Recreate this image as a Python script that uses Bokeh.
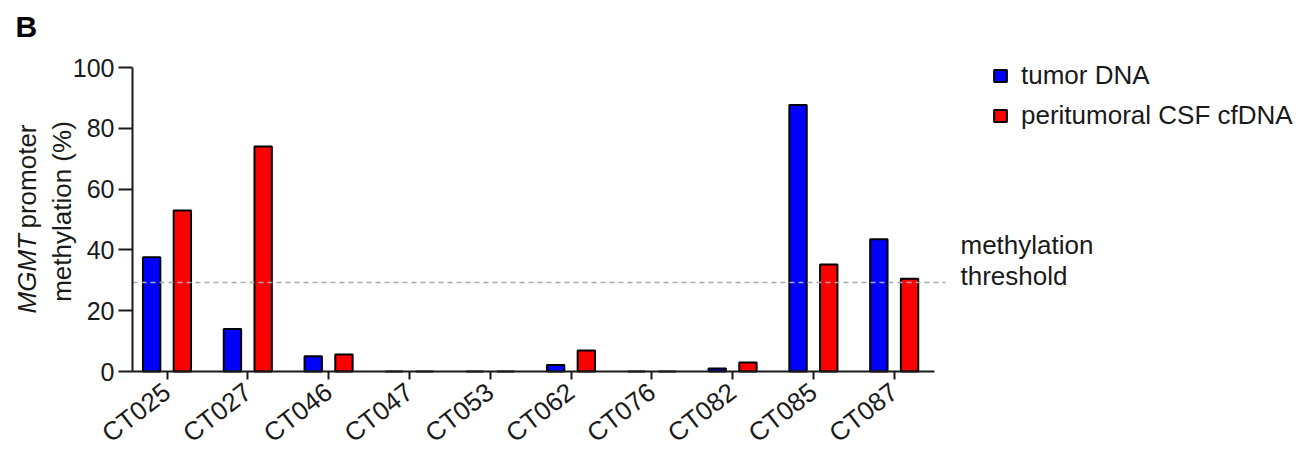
import numpy as np
from math import pi
from bokeh.plotting import figure
from bokeh.models import (Range1d, FixedTicker, Label, Legend, LegendItem,
                          ColumnDataSource)
from bokeh.embed import file_html
from bokeh.resources import INLINE

# ---------------- data ----------------
patients = ["CT025", "CT027", "CT046", "CT047", "CT053",
            "CT062", "CT076", "CT082", "CT085", "CT087"]
tumor_dna = [37.6, 14.0, 5.0, 0.0, 0.0, 2.1, 0.0, 1.0, 87.7, 43.5]
csf_cfdna = [53.0, 74.0, 5.6, 0.0, 0.0, 6.9, 0.0, 3.0, 35.2, 30.5]
threshold = 29.3
y_ticks = [0, 20, 40, 60, 80, 100]

FONT = "Liberation Sans"
TXT = "#1a1a1a"

W, H = 1304, 450
# page-pixel geometry of the plotting area
X0_PX, DX_PX = 166.5, 80.8     # centre of first group, group spacing
Y0_PX, DY_PX = 371.0, 3.04     # y=0 pixel, px per unit

def dx(px):
    return (px - X0_PX) / DX_PX

def dy(py):
    return (Y0_PX - py) / DY_PX

AX_L, AX_R = dx(132), dx(934)   # x-axis extent

p = figure(width=W, height=H, output_backend="svg", toolbar_location=None,
           x_range=Range1d(dx(0), dx(W)), y_range=Range1d(dy(H), dy(0)),
           min_border=0, min_border_left=0, min_border_right=0,
           min_border_top=0, min_border_bottom=0)
p.outline_line_color = None
p.xgrid.visible = False
p.ygrid.visible = False
p.background_fill_color = "white"
p.border_fill_color = "white"

idx = np.arange(len(patients))
src = ColumnDataSource(dict(xt=idx - 0.19, xc=idx + 0.19,
                            tumor=tumor_dna, csf=csf_cfdna))
r1 = p.vbar(x="xt", top="tumor", bottom=0, width=0.215, source=src,
            fill_color="#0000FF", line_color="#000000", line_width=2)
r2 = p.vbar(x="xc", top="csf", bottom=0, width=0.215, source=src,
            fill_color="#FF0000", line_color="#000000", line_width=2)

# threshold line
p.segment(x0=[AX_L], x1=[dx(945)], y0=[threshold], y1=[threshold],
          line_color="#aaaaaa", line_width=1.5, line_dash="5 4")

# axes (fixed inside the frame so that outside texts are not clipped)
xa = p.xaxis[0]
xa.fixed_location = 0
xa.bounds = (AX_L, AX_R)
xa.ticker = FixedTicker(ticks=list(idx))
xa.major_label_overrides = {int(i): n for i, n in zip(idx, patients)}
xa.major_label_orientation = 0.66
xa.major_label_text_font = FONT
xa.major_label_text_font_size = "26px"
xa.major_label_text_color = TXT
xa.major_label_standoff = 9
xa.major_tick_out = 8
xa.major_tick_in = 0
xa.major_tick_line_width = 2
xa.major_tick_line_color = TXT
xa.minor_tick_line_color = None
xa.axis_line_width = 2
xa.axis_line_color = TXT

ya = p.yaxis[0]
ya.fixed_location = AX_L
ya.bounds = (0, 100)
ya.ticker = FixedTicker(ticks=y_ticks)
ya.major_label_text_font = FONT
ya.major_label_text_font_size = "25px"
ya.major_label_text_color = TXT
ya.major_label_standoff = 4
ya.major_tick_out = 14
ya.major_tick_in = 0
ya.major_tick_line_width = 2
ya.major_tick_line_color = TXT
ya.minor_tick_line_color = None
ya.axis_line_width = 2
ya.axis_line_color = TXT

# y-axis title (two lines, MGMT italic)
p.add_layout(Label(x=dx(26), y=dy(313), text="MGMT", angle=pi / 2,
                   text_font=FONT, text_font_size="26px", text_font_style="italic",
                   text_color=TXT, text_align="left", text_baseline="alphabetic"))
p.add_layout(Label(x=dx(26), y=dy(124), text="promoter", angle=pi / 2,
                   text_font=FONT, text_font_size="26px",
                   text_color=TXT, text_align="right", text_baseline="alphabetic"))
p.add_layout(Label(x=dx(61), y=dy(211), text="methylation (%)", angle=pi / 2,
                   text_font=FONT, text_font_size="26px",
                   text_color=TXT, text_align="center", text_baseline="alphabetic"))

# panel letter
p.add_layout(Label(x=dx(15), y=dy(26), text="B", text_font=FONT,
                   text_font_size="30px", text_font_style="bold",
                   text_color="#000000", text_align="left", text_baseline="alphabetic"))

# threshold label
p.add_layout(Label(x=dx(960), y=dy(244), text="methylation", text_font=FONT,
                   text_font_size="26px", text_color=TXT,
                   text_align="left", text_baseline="alphabetic"))
p.add_layout(Label(x=dx(960), y=dy(275), text="threshold", text_font=FONT,
                   text_font_size="26px", text_color=TXT,
                   text_align="left", text_baseline="alphabetic"))

legend = Legend(items=[LegendItem(label="tumor DNA", renderers=[r1]),
                       LegendItem(label="peritumoral CSF cfDNA", renderers=[r2])],
                location=(992, H - 131),
                orientation="vertical", padding=0, margin=0,
                border_line_color=None, background_fill_alpha=0,
                glyph_width=16, glyph_height=15, label_standoff=13,
                label_height=30, spacing=9,
                label_text_font=FONT, label_text_font_size="26px",
                label_text_color=TXT)
p.add_layout(legend, "center")

open("out.html", "w").write(file_html(p, INLINE))
